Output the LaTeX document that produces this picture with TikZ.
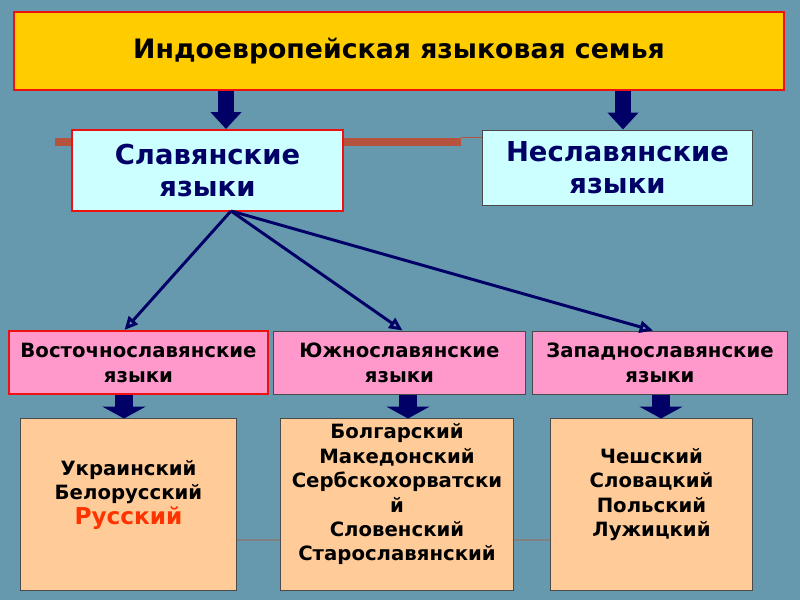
\documentclass[tikz,border=0pt]{standalone}
\usepackage{fontspec}
\setmainfont{DejaVu Sans}
\usetikzlibrary{arrows.meta,calc}
\definecolor{SlideTeal}{HTML}{6699AE}
\definecolor{SlideNavy}{HTML}{000066}
\definecolor{SlideYellow}{HTML}{FFCC00}
\definecolor{SlideCyan}{HTML}{CCFFFF}
\definecolor{SlidePink}{HTML}{FF99CC}
\definecolor{SlidePeach}{HTML}{FFCC99}
\definecolor{SlideRed}{HTML}{EE1111}
\definecolor{SlideRust}{HTML}{B5533F}
\definecolor{SlideGray}{HTML}{4A4A4A}
\definecolor{SlideOrange}{HTML}{FF3300}

\begin{document}
\begin{tikzpicture}[x=0.025cm,y=-0.025cm,
  box/.style={draw=SlideGray,line width=0.7pt,align=center,inner sep=0pt,font=\bfseries},
  redbox/.style={draw=SlideRed,line width=1.4pt},
  headbox/.style={box,fill=SlideCyan,text=SlideNavy,minimum width=6.75cm,
    font=\bfseries\fontsize{19.5}{22.8}\selectfont},
  groupbox/.style={box,fill=SlidePink,minimum height=1.575cm,
    font=\bfseries\fontsize{14}{17.8}\selectfont},
  listbox/.style={box,fill=SlidePeach,minimum height=4.275cm,
    font=\bfseries\fontsize{14}{17.4}\selectfont},
  bigarrow/.style={SlideNavy,line width=10.7pt,-{Triangle[width=21.3pt,length=12pt]}},
  smallarrow/.style={SlideNavy,line width=12.8pt,-{Triangle[width=30.6pt,length=8.5pt]}},
  thinarrow/.style={SlideNavy,line width=2.1pt,-{Triangle[open,width=8.5pt,length=9.5pt]}}]

  \fill[SlideTeal] (0,0) rectangle (800,600);
  \useasboundingbox (0,0) rectangle (800,600);

  % family and branches
  \node[box,redbox,fill=SlideYellow,minimum width=19.25cm,minimum height=1.95cm,
    font=\bfseries\fontsize{19}{22}\selectfont] (family) at (399,51)
    {Индоевропейская языковая семья};
  \fill[SlideRust] (55,138) rectangle (461,146);
  \coordinate (barend) at (461,137);
  \node[headbox,redbox,minimum height=2.025cm] (slavic) at (207.5,170.5)
    {Славянские\\языки};
  \node[headbox,minimum height=1.875cm] (nonslavic) at (617.5,167.5)
    {Неславянские\\языки};
  \draw[SlideRust,line width=0.6pt] (barend) -- (barend -| nonslavic.west);

  \coordinate (leftdrop) at (226,0);
  \coordinate (rightdrop) at (623,0);
  \draw[bigarrow] (family.south -| leftdrop) -- (slavic.north -| leftdrop);
  \draw[bigarrow] (family.south -| rightdrop) -- (nonslavic.north -| rightdrop);

  % slavic groups
  \node[groupbox,redbox,minimum width=6.475cm] (east) at (138.5,362.5)
    {Восточнославянские\\языки};
  \node[groupbox,minimum width=6.275cm] (south) at (399.5,362.5)
    {Южнославянские\\языки};
  \node[groupbox,minimum width=6.35cm] (west) at (660,362.5)
    {Западнославянские\\языки};

  \coordinate (fork) at (231,211);
  \draw[thinarrow] (fork) -- ($(east.north)+(-14,0)$);
  \draw[thinarrow] (fork) -- ($(south.north)+(3,0)$);
  \draw[thinarrow] (fork) -- ($(west.north)+(-7,0)$);

  % languages
  \node[listbox,minimum width=5.375cm] (eastlangs) at (128.5,504.5)
    {Украинский\\Белорусский\\{\color{SlideOrange}\fontsize{16.5}{19}\selectfont Русский}\\~};
  \node[listbox,minimum width=5.8cm] (southlangs) at (397,504.5)
    {Болгарский\\Македонский\\Сербскохорватски\\й\\Словенский\\Старославянский\\~};
  \node[listbox,minimum width=5.025cm] (westlangs) at (651.5,504.5)
    {Чешский\\Словацкий\\Польский\\Лужицкий\\~};

  \coordinate (eastdrop) at (124,0);
  \coordinate (southdrop) at (408,0);
  \coordinate (westdrop) at (661,0);
  \draw[smallarrow] (east.south -| eastdrop) -- (eastlangs.north -| eastdrop);
  \draw[smallarrow] (south.south -| southdrop) -- (southlangs.north -| southdrop);
  \draw[smallarrow] (west.south -| westdrop) -- (westlangs.north -| westdrop);

  \coordinate (link) at (0,540);
  \draw[gray,line width=0.8pt] (eastlangs.east |- link) -- (southlangs.west |- link);
  \draw[gray,line width=0.8pt] (southlangs.east |- link) -- (westlangs.west |- link);
\end{tikzpicture}
\end{document}
